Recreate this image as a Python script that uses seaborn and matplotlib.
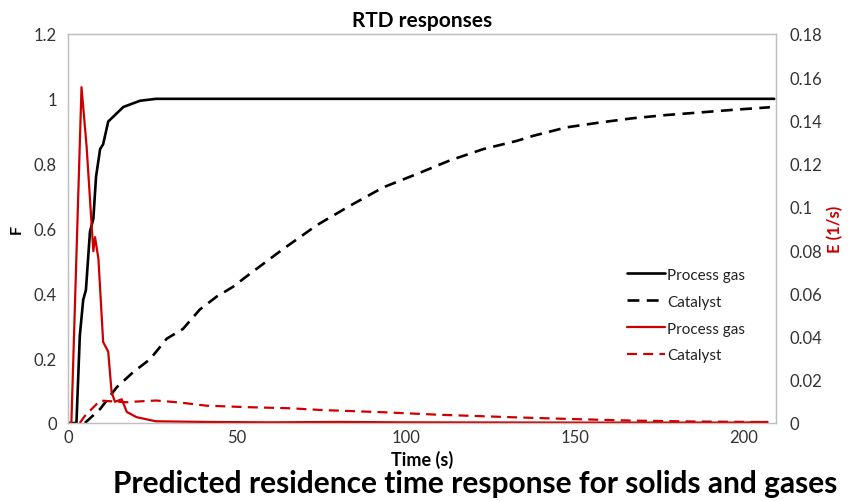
import numpy as np
import pandas as pd
import matplotlib
matplotlib.use("Agg")
import matplotlib.pyplot as plt
import seaborn as sns

# ---- data ----
gas_F_t = [0, 2.5, 3.5, 4.5, 5.3, 6.5, 7.5, 8.3, 9.5, 10.4, 11.9, 13.9, 16.4, 21.3, 26, 30, 100, 150, 209]
gas_F = [0, 0, 0.27, 0.38, 0.41, 0.59, 0.63, 0.76, 0.845, 0.86, 0.93, 0.95, 0.975, 0.994, 1.0, 1.0, 1.0, 1.0, 1.0]

cat_F_t = [5, 9.5, 14.4, 19.3, 24.3, 29.2, 34, 39, 44, 48.8, 53.8, 63.7, 73.6, 83.4, 93.3, 103.2, 113,
           122.9, 132.7, 137.7, 147.5, 157.4, 167, 177, 187, 196.7, 207.7]
cat_F = [0, 0.043, 0.11, 0.157, 0.197, 0.26, 0.29, 0.35, 0.39, 0.42, 0.46, 0.537, 0.61, 0.67, 0.727, 0.768, 0.81,
         0.845, 0.87, 0.886, 0.912, 0.927, 0.94, 0.95, 0.958, 0.966, 0.974]

gas_E_t = [0, 1, 4, 5.5, 7.0, 7.5, 8.0, 9.0, 10.4, 11.9, 12.9, 13.9, 15.9, 17.4, 20.3, 26, 40, 60, 80, 100, 150, 200, 207]
gas_E = [0, 0, 0.1554, 0.128, 0.0915, 0.0795, 0.086, 0.076, 0.0375, 0.033, 0.0143, 0.0098, 0.011, 0.0051, 0.0027,
         0.0008, 0.0005, 0.0003, 0.0005, 0.0003, 0.0002, 0.0002, 0.0005]

cat_E_t = [3.5, 5, 9.5, 14, 17.4, 20, 26, 33, 41, 53.8, 66, 75, 93, 110, 132.7, 150, 167, 185, 205.6]
cat_E = [0, 0.0033, 0.0104, 0.0099, 0.0096, 0.0099, 0.0104, 0.0095, 0.008, 0.0073, 0.0068, 0.006, 0.005, 0.0038,
         0.0026, 0.0018, 0.0011, 0.0007, 0.00045]

x_ticks = [0, 50, 100, 150, 200]
F_ticks = [0, 0.2, 0.4, 0.6, 0.8, 1.0, 1.2]
F_tick_labels = ["0", "0.2", "0.4", "0.6", "0.8", "1", "1.2"]
E_ticks = [0, 0.02, 0.04, 0.06, 0.08, 0.10, 0.12, 0.14, 0.16, 0.18]
E_tick_labels = ["0", "0.02", "0.04", "0.06", "0.08", "0.1", "0.12", "0.14", "0.16", "0.18"]

sns.set_theme(style="white")
plt.rcParams['font.family'] = ['Lato', 'DejaVu Sans']

RED = "#cc0000"
TICK_C = "#333333"
SPINE_C = "#bfbfbf"

fig = plt.figure(figsize=(8.48, 5.02), dpi=100)
ax = fig.add_axes([68 / 848, 1 - 424 / 502, (776 - 68) / 848, (424 - 35) / 502])
ax2 = ax.twinx()

df_gF = pd.DataFrame({"t": gas_F_t, "v": gas_F})
df_cF = pd.DataFrame({"t": cat_F_t, "v": cat_F})
df_gE = pd.DataFrame({"t": gas_E_t, "v": gas_E})
df_cE = pd.DataFrame({"t": cat_E_t, "v": cat_E})

sns.lineplot(data=df_gF, x="t", y="v", ax=ax, color="black", lw=1.9, label="Process gas", legend=False)
sns.lineplot(data=df_cF, x="t", y="v", ax=ax, color="black", lw=1.9, linestyle=(0, (4.5, 2.8)),
             label="Catalyst", legend=False)
sns.lineplot(data=df_gE, x="t", y="v", ax=ax2, color=RED, lw=1.6, label="Process gas", legend=False)
sns.lineplot(data=df_cE, x="t", y="v", ax=ax2, color=RED, lw=1.6, linestyle=(0, (4.5, 2.8)),
             label="Catalyst", legend=False)

ax.set_xlim(0, 209.5)
ax.set_ylim(0, 1.2)
ax2.set_ylim(0, 0.18)
ax.set_xticks(x_ticks)
ax.set_xticklabels([str(v) for v in x_ticks])
ax.set_yticks(F_ticks)
ax.set_yticklabels(F_tick_labels)
ax2.set_yticks(E_ticks)
ax2.set_yticklabels(E_tick_labels)

ax.tick_params(axis='both', length=0, labelsize=12, colors=TICK_C)
ax.tick_params(axis='y', pad=8)
ax.tick_params(axis='x', pad=4)
ax2.tick_params(axis='y', length=0, labelsize=12, colors=TICK_C, pad=10)

for a in (ax, ax2):
    for s in a.spines.values():
        s.set_color(SPINE_C)
        s.set_linewidth(0.9)
    a.grid(False)

ax.set_xlabel("Time (s)", fontsize=13, fontweight="bold", color="black", labelpad=4)
ax.set_ylabel("F", fontsize=11.5, fontweight="bold", color="black", labelpad=7)
ax2.set_ylabel("E (1/s)", fontsize=12, fontweight="bold", color=RED, labelpad=3)
ax.set_title("RTD responses", fontsize=15, fontweight="bold", color="black", pad=6)

h1, l1 = ax.get_legend_handles_labels()
h2, l2 = ax2.get_legend_handles_labels()
ax2.legend(h1 + h2, l1 + l2, loc="upper left", bbox_to_anchor=(0.77, 0.435), frameon=False,
           fontsize=11, handlelength=2.5, handletextpad=0.12, labelspacing=0.85,
           labelcolor="#222222")

fig.text(0.560, 1 - 493 / 502, "Predicted residence time response for solids and gases",
         ha="center", va="baseline", fontsize=21.5, fontweight="bold", color="black")

fig.savefig("out.png", dpi=100)
